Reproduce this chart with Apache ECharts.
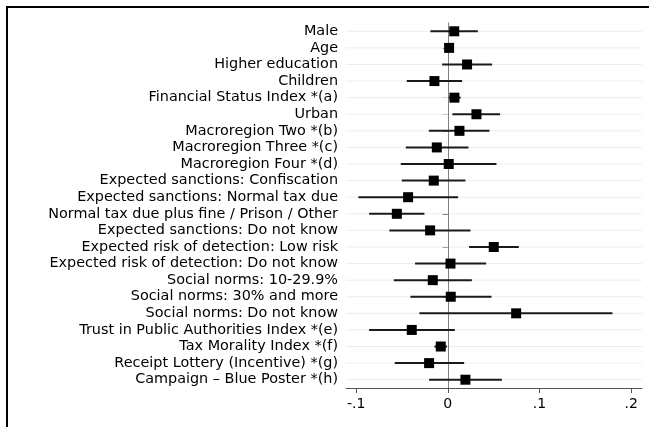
<!DOCTYPE html>
<html>
<head>
<meta charset="utf-8">
<script src="https://cdn.jsdelivr.net/npm/echarts@6/dist/echarts.min.js"></script>
<style>
  html, body { margin: 0; padding: 0; background: #fff; }
  #chart { width: 649px; height: 427px; }
</style>
</head>
<body>
<div id="chart"></div>
<script>
const labels = [
  "Male",
  "Age",
  "Higher education",
  "Children",
  "Financial Status Index *(a)",
  "Urban",
  "Macroregion Two *(b)",
  "Macroregion Three *(c)",
  "Macroregion Four *(d)",
  "Expected sanctions: Confiscation",
  "Expected sanctions: Normal tax due",
  "Normal tax due plus fine / Prison / Other",
  "Expected sanctions: Do not know",
  "Expected risk of detection: Low risk",
  "Expected risk of detection: Do not know",
  "Social norms: 10-29.9%",
  "Social norms: 30% and more",
  "Social norms: Do not know",
  "Trust in Public Authorities Index *(e)",
  "Tax Morality Index *(f)",
  "Receipt Lottery (Incentive) *(g)",
  "Campaign \u2013 Blue Poster *(h)",
];
const coef = [0.007, 0.0014, 0.021, -0.0146, 0.0072, 0.0312, 0.0127, -0.012, 0.001, -0.0153, -0.0433,
  -0.0556, -0.0193, 0.0501, 0.0029, -0.0164, 0.0032, 0.0745, -0.0393, -0.0077, -0.0204, 0.0192];
const lower = [-0.019, -0.001, -0.0062, -0.0447, 0.001, 0.005, -0.0207, -0.0458, -0.0513, -0.0502, -0.0975,
  -0.0858, -0.0637, 0.0232, -0.0357, -0.0589, -0.0408, -0.031, -0.0858, -0.0146, -0.0578, -0.0204];
const upper = [0.0327, 0.004, 0.0483, 0.0156, 0.014, 0.057, 0.0454, 0.0225, 0.053, 0.0192, 0.0112,
  -0.0255, 0.0247, 0.0774, 0.0418, 0.0262, 0.0476, 0.1795, 0.0076, -0.0008, 0.0178, 0.0589];
const xTickVals = [-0.1, 0, 0.1, 0.2];
const xTickText = ["-.1", "0", ".1", ".2"];
const refValue = 0;

const X_MIN = -0.111, X_MAX = 0.2117;

var myChart = echarts.init(document.getElementById("chart"));
var option = {
  animation: false,
  textStyle: { fontFamily: "DejaVu Sans, sans-serif" },
  graphic: [
    { type: "line", shape: { x1: 6, y1: 7, x2: 649, y2: 7 }, style: { stroke: "#000", lineWidth: 2 } },
    { type: "line", shape: { x1: 7, y1: 6, x2: 7, y2: 427 }, style: { stroke: "#000", lineWidth: 2 } },
  ],
  grid: { left: 346, right: 7, top: 23, bottom: 39 },
  xAxis: {
    type: "value",
    min: X_MIN,
    max: X_MAX,
    splitLine: { show: false },
    axisLine: { show: true, lineStyle: { color: "#555", width: 1 } },
    axisTick: { show: true, length: 5, lineStyle: { color: "#555" }, customValues: xTickVals },
    axisLabel: {
      color: "#000",
      fontSize: 14,
      margin: 9,
      customValues: xTickVals,
      formatter: (v) => {
        const k = xTickVals.findIndex((t) => Math.abs(t - v) < 1e-6);
        return k >= 0 ? xTickText[k] : "";
      },
    },
  },
  yAxis: {
    type: "category",
    data: labels,
    inverse: true,
    axisLine: { show: true, lineStyle: { color: "#555", width: 1 } },
    axisTick: { show: true, alignWithLabel: true, length: 5, lineStyle: { color: "#555" } },
    axisLabel: { color: "#000", fontSize: 14.4, margin: 8, interval: 0 },
    splitLine: { show: false },
  },
  series: [
    {
      // light row gridlines + the zero reference line
      type: "custom",
      z: 1,
      silent: true,
      data: labels.map((l, i) => [X_MIN, X_MAX, i]),
      renderItem: function (params, api) {
        const a = api.coord([api.value(0), api.value(2)]);
        const b = api.coord([api.value(1), api.value(2)]);
        const children = [
          {
            type: "line",
            shape: { x1: a[0], y1: a[1], x2: b[0], y2: b[1] },
            style: { stroke: "#e6eff0", lineWidth: 1 },
          },
        ];
        if (params.dataIndex === 0) {
          const cs = params.coordSys;
          const zx = Math.round(api.coord([refValue, 0])[0]) + 0.5;
          children.push({
            type: "line",
            z2: 10,
            shape: { x1: zx, y1: cs.y, x2: zx, y2: cs.y + cs.height },
            style: { stroke: "#808080", lineWidth: 1 },
          });
        }
        return { type: "group", children: children };
      },
    },
    {
      // confidence intervals
      type: "custom",
      z: 3,
      data: labels.map((l, i) => [lower[i], upper[i], i]),
      renderItem: function (params, api) {
        const a = api.coord([api.value(0), api.value(2)]);
        const b = api.coord([api.value(1), api.value(2)]);
        return {
          type: "line",
          shape: { x1: a[0], y1: a[1], x2: b[0], y2: b[1] },
          style: { stroke: "#1a1a1a", lineWidth: 2 },
        };
      },
    },
    {
      type: "scatter",
      z: 4,
      symbol: "rect",
      symbolSize: 10,
      itemStyle: { color: "#000", opacity: 1 },
      data: labels.map((l, i) => [coef[i], i]),
    },
  ],
};
myChart.setOption(option);
</script>
</body>
</html>
